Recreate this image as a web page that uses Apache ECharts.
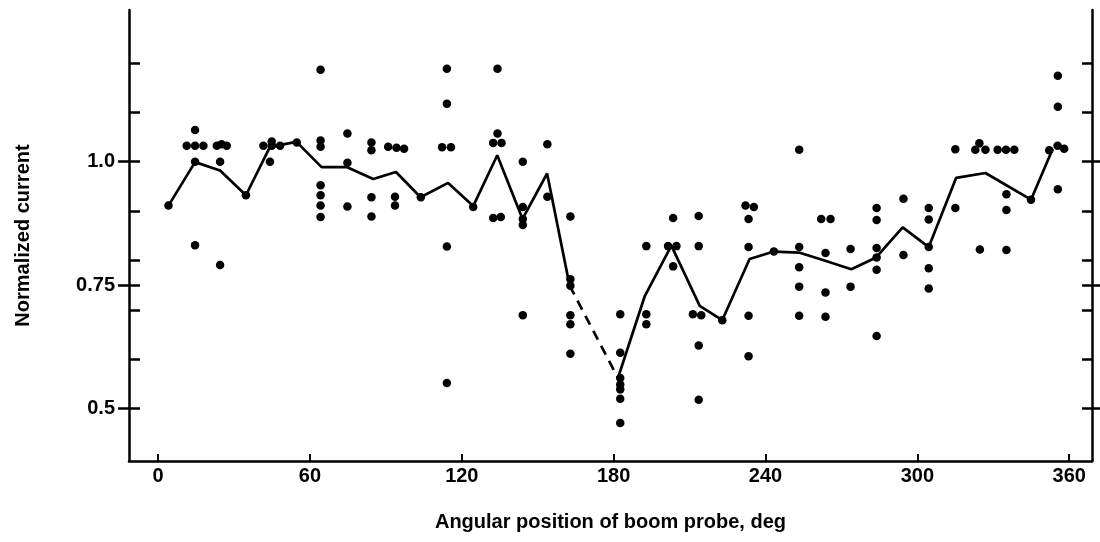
<!DOCTYPE html>
<html>
<head>
<meta charset="utf-8">
<script src="https://cdn.jsdelivr.net/npm/echarts@6/dist/echarts.min.js"></script>
<style>
  html, body { margin: 0; padding: 0; background: #fff; }
  #chart { width: 1100px; height: 542px; }
</style>
</head>
<body>
<div id="chart"></div>
<script>
// mean curve (deg, normalized current)
var meanDeg = [4.1, 14.6, 24.5, 34.7, 44.2, 54.7, 64.6, 74.5, 85, 94, 103.7, 114.6, 124.5, 134, 144, 153.7, 162.6,
  181.7, 192.3, 202.8, 214, 222.9, 233.7, 243.3, 253.2, 263.3, 273.9, 283.7, 294.2, 304.5, 315.3, 326.9, 344.9, 353.5];
var meanVal = [0.911, 0.999, 0.982, 0.932, 1.03, 1.04, 0.989, 0.989, 0.965, 0.979, 0.928, 0.957, 0.91, 1.013, 0.884, 0.976, 0.749,
  0.562, 0.728, 0.83, 0.708, 0.679, 0.803, 0.818, 0.816, 0.8, 0.782, 0.806, 0.867, 0.827, 0.967, 0.977, 0.923, 1.026];
var dashFrom = 16; // mean line is dashed between index 16 and 17

// individual measurements
var dotDeg = [
  4.1,
  14.6, 11.3, 14.6, 17.9, 14.6, 14.6,
  23.2, 25.1, 27.1, 24.5, 24.5,
  34.7,
  41.6, 44.9, 48.2, 44.9, 44.2,
  54.8,
  64.2, 64.2, 64.2, 64.2, 64.2, 64.2, 64.2,
  74.8, 74.8, 74.8,
  84.3, 84.3, 84.3, 84.3,
  90.9, 94.2, 97.2, 93.6, 93.6,
  103.8,
  114.1, 114.1, 112.2, 115.7, 114.1, 114.1,
  124.5,
  134.1, 134.1, 132.4, 135.7, 132.4, 135.4,
  144.1, 144.1, 144.1, 144.1, 144.1,
  153.8, 153.8,
  162.9, 162.9, 162.9, 162.9, 162.9, 162.9,
  182.6, 182.6, 182.6, 182.6, 182.6, 182.6, 182.6,
  192.9, 192.9, 192.9,
  203.5, 201.5, 204.8, 203.5,
  213.6, 213.6, 211.3, 214.6, 213.6, 213.6,
  222.9,
  232.1, 235.4, 233.3, 233.3, 233.3, 233.3,
  243.3,
  253.3, 253.3, 253.3, 253.3, 253.3,
  262, 265.7, 263.7, 263.7, 263.7,
  273.6, 273.6,
  283.9, 283.9, 283.9, 283.9, 283.9, 283.9,
  294.5, 294.5,
  304.5, 304.5, 304.5, 304.5, 304.5,
  315, 315,
  322.9, 324.5, 326.9, 324.7,
  331.7, 335, 338.3, 335.2, 335.2, 335.2,
  344.9,
  355.5, 355.5, 352.1, 355.4, 358, 355.5
];
var dotVal = [
  0.911,
  1.064, 1.032, 1.032, 1.032, 1.0, 0.831,
  1.032, 1.035, 1.032, 1.0, 0.791,
  0.932,
  1.032, 1.032, 1.032, 1.041, 1.0,
  1.039,
  1.186, 1.043, 1.03, 0.952, 0.932, 0.911, 0.888,
  1.057, 0.998, 0.909,
  1.039, 1.023, 0.928, 0.889,
  1.03, 1.028, 1.026, 0.929, 0.911,
  0.928,
  1.188, 1.117, 1.029, 1.029, 0.828, 0.552,
  0.908,
  1.188, 1.057, 1.038, 1.038, 0.886, 0.888,
  1.0, 0.908, 0.884, 0.872, 0.689,
  1.035, 0.929,
  0.889, 0.762, 0.749, 0.689, 0.671, 0.611,
  0.691, 0.613, 0.562, 0.549, 0.539, 0.52, 0.471,
  0.829, 0.691, 0.671,
  0.886, 0.829, 0.829, 0.788,
  0.89, 0.829, 0.691, 0.689, 0.628, 0.518,
  0.679,
  0.911, 0.908, 0.884, 0.827, 0.688, 0.606,
  0.818,
  1.024, 0.827, 0.786, 0.747, 0.688,
  0.884, 0.884, 0.815, 0.735, 0.686,
  0.823, 0.747,
  0.906, 0.882, 0.825, 0.806, 0.781, 0.647,
  0.925, 0.811,
  0.906, 0.883, 0.827, 0.784, 0.743,
  1.025, 0.906,
  1.024, 1.037, 1.024, 0.822,
  1.024, 1.024, 1.024, 0.934, 0.902, 0.821,
  0.923,
  1.174, 1.111, 1.023, 1.032, 1.026, 0.944
];

// axis ticks
var xTicks = [0, 60, 120, 180, 240, 300, 360];
var yMajor = [0.5, 0.75, 1.0];
var yLabels = ['0.5', '0.75', '1.0'];
var yMinor = [0.6, 0.7, 0.8, 0.9, 1.1, 1.2];

var yMin = 0.394, yMax = 1.307;
var fontFam = 'Liberation Sans';

function pairs(xs, ys, a, b) {
  var out = [];
  for (var i = a; i < b; i++) out.push([xs[i], ys[i]]);
  return out;
}

var chart = echarts.init(document.getElementById('chart'));

function yAx(pos, inside, ticks, len, showLine, showLabel) {
  return {
    type: 'value', position: pos, min: yMin, max: yMax,
    splitLine: { show: false },
    axisLine: { show: showLine, onZero: false, lineStyle: { color: '#000', width: 2.5 } },
    axisTick: { show: true, inside: inside, length: len, customValues: ticks, lineStyle: { color: '#000', width: 2.5 } },
    axisLabel: {
      show: showLabel, customValues: yMajor, color: '#000', fontFamily: fontFam, fontWeight: 'bold', fontSize: 20, margin: 14,
      formatter: function (v) { return yLabels[yMajor.indexOf(v)]; }
    }
  };
}

var yLeftOut = yAx('left', false, yMajor, 11, false, true);
yLeftOut.name = 'Normalized current';
yLeftOut.nameLocation = 'middle';
yLeftOut.nameGap = 96;
yLeftOut.nameTextStyle = { color: '#000', fontFamily: fontFam, fontWeight: 'bold', fontSize: 20 };

var option = {
  animation: false,
  backgroundColor: '#fff',
  grid: { left: 129, right: 8, top: 10, bottom: 81 },
  xAxis: {
    type: 'value', min: -11.5, max: 369,
    splitLine: { show: false },
    axisLine: { onZero: false, lineStyle: { color: '#000', width: 2.5 } },
    axisTick: { inside: true, length: 7, customValues: xTicks, lineStyle: { color: '#000', width: 2 } },
    axisLabel: { customValues: xTicks, color: '#000', fontFamily: fontFam, fontWeight: 'bold', fontSize: 20, margin: 5 },
    name: 'Angular position of boom probe, deg',
    nameLocation: 'middle',
    nameGap: 51,
    nameTextStyle: { color: '#000', fontFamily: fontFam, fontWeight: 'bold', fontSize: 20 }
  },
  yAxis: [
    yAx('left', true, yMajor.concat(yMinor), 11, true, false),
    yLeftOut,
    yAx('right', true, yMajor.concat(yMinor), 10, true, false),
    yAx('right', false, yMajor, 8, false, false)
  ],
  series: [
    {
      type: 'line', yAxisIndex: 0, symbol: 'none',
      data: pairs(meanDeg, meanVal, 0, dashFrom + 1),
      lineStyle: { color: '#000', width: 2.7 }
    },
    {
      type: 'line', yAxisIndex: 0, symbol: 'none',
      data: pairs(meanDeg, meanVal, dashFrom, dashFrom + 2),
      lineStyle: { color: '#000', width: 2.7, type: [10, 7] }
    },
    {
      type: 'line', yAxisIndex: 0, symbol: 'none',
      data: pairs(meanDeg, meanVal, dashFrom + 1, meanDeg.length),
      lineStyle: { color: '#000', width: 2.7 }
    },
    {
      type: 'scatter', yAxisIndex: 0, symbolSize: 8.5,
      itemStyle: { color: '#000', opacity: 1 },
      data: pairs(dotDeg, dotVal, 0, dotDeg.length)
    }
  ]
};
chart.setOption(option);
</script>
</body>
</html>
